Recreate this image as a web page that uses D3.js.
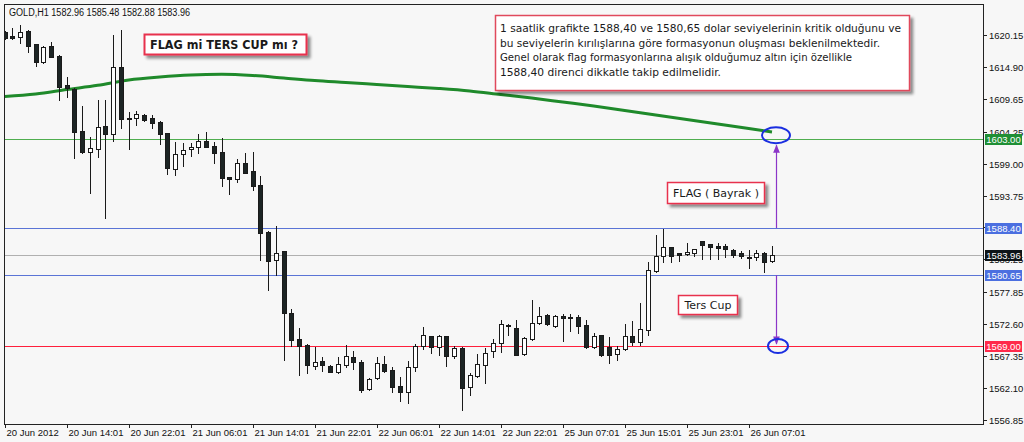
<!DOCTYPE html>
<html><head><meta charset="utf-8">
<script src="https://cdn.jsdelivr.net/npm/d3@7"></script>
<style>
html,body{margin:0;padding:0;background:#f7f7f7;}
svg{display:block;}
</style></head>
<body>
<svg id="c" width="1024" height="442"></svg>
<script>
// ---- data ----
const symbol = "GOLD,H1";
const headerOHLC = ["1582.96","1585.48","1582.88","1583.96"];
const opens  = [1620.64,1619.99,1619.87,1620.81,1618.62,1615.76,1618.39,1616.70,1611.93,1611.22,
                1604.36,1600.95,1601.35,1605.18,1603.82,1614.94,1606.55,1606.58,1606.99,1606.45,
                1605.89,1604.08,1598.06,1600.53,1601.35,1601.68,1602.76,1601.89,1600.95,1596.74,
                1596.46,1599.05,1597.83,1595.47,1587.79,1583.14,1584.62,1574.37,1570.14,1569.16,
                1565.75,1566.47,1565.75,1564.76,1565.86,1567.23,1566.41,1561.87,1563.68,1566.03,
                1565.04,1562.41,1561.37,1565.49,1569.04,1570.64,1568.88,1570.64,1567.34,1568.71,
                1562.20,1564.10,1565.86,1568.17,1569.54,1572.50,1571.90,1567.63,1570.14,1572.72,
                1574.09,1572.28,1573.93,1573.81,1573.71,1572.45,1568.78,1570.80,1568.88,1567.63,
                1568.50,1570.68,1569.70,1571.62,1581.38,1583.80,1585.23,1584.24,1584.08,1584.24,
                1586.31,1585.77,1585.44,1585.44,1584.78,1584.24,1583.68,1583.68,1584.34,1582.96];
const highs  = [1620.81,1621.25,1621.79,1620.97,1618.67,1618.40,1619.05,1616.80,1613.24,1611.43,
                1608.52,1603.32,1609.46,1609.46,1620.15,1620.97,1607.53,1607.73,1607.15,1606.99,
                1605.95,1604.10,1602.60,1602.43,1602.33,1603.82,1604.24,1602.50,1603.16,1596.84,
                1599.70,1600.69,1600.85,1597.00,1587.85,1588.73,1584.70,1575.03,1571.90,1569.32,
                1568.88,1567.13,1565.86,1567.13,1569.16,1568.22,1566.70,1563.70,1567.23,1567.35,
                1565.59,1563.94,1566.57,1569.32,1572.17,1570.70,1570.80,1570.70,1569.04,1568.80,
                1564.60,1567.67,1568.61,1570.17,1573.27,1572.61,1573.27,1570.40,1576.56,1575.36,
                1574.25,1574.09,1574.20,1574.20,1574.09,1573.27,1571.08,1570.85,1570.42,1568.99,
                1572.61,1573.15,1576.01,1582.86,1587.25,1588.25,1585.33,1584.30,1585.98,1584.95,
                1586.35,1585.85,1585.88,1585.72,1584.90,1584.67,1584.78,1584.78,1584.40,1585.48];
const lows   = [1619.49,1619.49,1618.88,1617.40,1615.10,1615.60,1616.48,1609.46,1609.95,1599.87,
                1600.74,1594.11,1600.13,1590.00,1602.76,1604.80,1601.35,1605.35,1606.00,1604.80,
                1602.22,1597.28,1597.12,1598.60,1600.25,1600.79,1601.68,1599.05,1595.31,1593.95,
                1596.02,1597.40,1594.65,1583.14,1578.20,1580.67,1566.69,1569.04,1564.22,1564.60,
                1565.16,1564.93,1564.70,1564.60,1565.49,1565.16,1561.47,1561.70,1563.56,1564.76,
                1561.47,1559.99,1559.56,1564.93,1568.58,1567.89,1567.51,1565.70,1567.00,1558.46,
                1560.93,1563.95,1562.95,1567.23,1568.06,1570.80,1567.45,1567.51,1569.98,1572.61,
                1572.50,1572.10,1569.86,1571.51,1571.08,1568.61,1568.61,1567.34,1566.14,1566.69,
                1568.33,1569.16,1569.16,1570.80,1581.22,1582.86,1582.76,1583.02,1584.00,1583.80,
                1583.30,1583.25,1583.25,1583.58,1583.70,1583.42,1581.77,1583.14,1581.11,1582.88];
const closes = [1619.66,1619.66,1620.69,1618.39,1615.76,1618.23,1616.58,1611.65,1611.38,1604.24,
                1600.85,1601.61,1604.97,1603.82,1614.94,1606.28,1606.50,1607.12,1606.17,1605.72,
                1603.86,1598.22,1600.53,1601.23,1601.68,1602.76,1601.78,1600.79,1596.58,1596.51,
                1599.05,1597.50,1595.31,1587.63,1583.02,1584.34,1574.37,1569.98,1569.04,1565.86,
                1566.41,1565.86,1564.76,1565.98,1567.39,1566.31,1561.75,1563.51,1566.14,1564.93,
                1562.30,1561.37,1565.49,1569.04,1570.80,1568.78,1570.69,1567.39,1568.61,1562.13,
                1564.22,1566.03,1567.92,1569.57,1572.61,1572.37,1567.51,1570.26,1572.82,1573.93,
                1572.61,1573.93,1573.65,1573.55,1572.28,1568.78,1570.64,1567.51,1567.51,1568.45,
                1570.68,1569.70,1571.79,1581.49,1583.80,1585.23,1583.80,1584.01,1584.40,1584.90,
                1585.60,1585.23,1585.06,1584.95,1583.96,1583.80,1583.52,1584.24,1582.86,1583.96];
// moving average, read every 4th bar
const maIndex = [0,4,8,12,16,20,24,28,32,36,40,44,48,52,56,60,64,68,72,76,80,84,88,92,96,99];
const maValue = [1610.03,1610.44,1611.18,1611.88,1612.75,1613.24,1613.57,1613.68,1613.49,1613.08,
                 1612.66,1612.34,1612.01,1611.68,1611.35,1610.94,1610.36,1609.79,1609.13,1608.47,
                 1607.73,1606.99,1606.25,1605.51,1604.77,1604.19];
const priceTicks = [1620.15,1614.90,1609.65,1604.25,1599.00,1593.75,1588.50,1583.25,1577.85,1572.60,1567.35,1562.10,1556.85];
const hiddenTickLabels = [1588.50];
const timeTickIndex = [0,8,16,24,32,40,48,56,64,72,80,88,96];
const timeTickLabels = ["20 Jun 2012","20 Jun 14:01","20 Jun 22:01","21 Jun 06:01","21 Jun 14:01","21 Jun 22:01",
                        "22 Jun 06:01","22 Jun 14:01","22 Jun 22:01","25 Jun 07:01","25 Jun 15:01","25 Jun 23:01","26 Jun 07:01"];
const levelValues = [1603.00,1588.40,1580.65,1569.00];
const levelLabels = ["1603.00","1588.40","1580.65","1569.00"];
const currentPrice = 1583.96;
const noteTitle = "FLAG mi TERS CUP mı ?";
const noteLines = ["1 saatlik grafikte 1588,40 ve 1580,65 dolar seviyelerinin kritik olduğunu ve",
                   "bu seviyelerin kırılışlarına göre formasyonun oluşması beklenilmektedir.",
                   "Genel olarak flag formasyonlarına alışık olduğumuz altın için özellikle",
                   "1588,40 direnci dikkatle takip edilmelidir."];
const flagLabel = "FLAG ( Bayrak )";
const cupLabel = "Ters Cup";

// ---- layout ----
const L = 4, R = 983, T = 4, B = 424;
const svg = d3.select("#c");
const y = d3.scaleLinear().domain([1556.17, 1625.25]).range([B, T]);
const x = d3.scaleLinear().domain([0, 99]).range([4.7, 772]);
const px = v => Math.round(x(v)) + 0.5;

const levelColors = ["#4fae4f", "#5b74d6", "#5b74d6", "#ff1f3c"];
const boxColors = ["#1f8f35", "#4b6fe0", "#4b6fe0", "#ff2a4a"];

svg.append("rect").attr("width",1024).attr("height",442).attr("fill","#f7f7f7");
svg.append("defs").html(`
 <clipPath id="plot"><rect x="${L}" y="${T}" width="${R-L}" height="${B-T}"/></clipPath>
 <filter id="sh" x="-10%" y="-20%" width="130%" height="160%">
   <feGaussianBlur in="SourceAlpha" stdDeviation="1.5"/>
   <feOffset dx="3" dy="3" result="o"/>
   <feComponentTransfer><feFuncA type="linear" slope="0.45"/></feComponentTransfer>
   <feMerge><feMergeNode/><feMergeNode in="SourceGraphic"/></feMerge>
 </filter>
 <marker id="ah" viewBox="0 0 10 10" refX="9" refY="5" markerWidth="7" markerHeight="7" orient="auto">
   <path d="M0,1 L10,5 L0,9 Z" fill="#8b35c8"/>
 </marker>`);

const g = svg.append("g").attr("clip-path","url(#plot)");

// level lines
levelValues.forEach((v,k)=>{
  const yy = Math.round(y(v))+0.5;
  g.append("line").attr("x1",L).attr("x2",R).attr("y1",yy).attr("y2",yy)
   .attr("stroke",levelColors[k]).attr("stroke-width",1);
});
{
  const yy = Math.round(y(currentPrice))+0.5;
  g.append("line").attr("x1",L).attr("x2",R).attr("y1",yy).attr("y2",yy)
   .attr("stroke","#b0b0b0").attr("stroke-width",1);
}

// moving average
const maPts = maIndex.map((d,k)=>[x(d), y(maValue[k])]);
g.append("path").attr("d", d3.line().curve(d3.curveMonotoneX)(maPts))
 .attr("fill","none").attr("stroke","#1f8a2b").attr("stroke-width",3);

// candles
const idx = d3.range(opens.length);
const cg = g.append("g");
cg.selectAll("line.w").data(idx).join("line")
  .attr("x1",i=>px(i)).attr("x2",i=>px(i))
  .attr("y1",i=>Math.round(y(highs[i]))).attr("y2",i=>Math.round(y(lows[i]))+1)
  .attr("stroke","#1a1a1a").attr("stroke-width",1);
cg.selectAll("rect.b").data(idx).join("rect")
  .attr("x",i=>px(i)-2).attr("width",4)
  .attr("y",i=>Math.round(y(Math.max(opens[i],closes[i])))+0.5)
  .attr("height",i=>Math.max(1, Math.round(y(Math.min(opens[i],closes[i])))-Math.round(y(Math.max(opens[i],closes[i])))))
  .attr("fill",i=>closes[i]>=opens[i]?"#ffffff":"#1c2424")
  .attr("stroke","#1a1a1a").attr("stroke-width",1);

// frame
svg.append("rect").attr("x",L+0.5).attr("y",T+0.5).attr("width",R-L).attr("height",B-T)
  .attr("fill","none").attr("stroke","#222").attr("stroke-width",1);

// header
svg.append("text").attr("x",9).attr("y",16).attr("font-family","Liberation Sans, Arial, sans-serif")
  .attr("font-size",10).attr("fill","#111").attr("textLength",181).attr("lengthAdjust","spacingAndGlyphs")
  .text(symbol+"  "+headerOHLC.join(" "));

// price axis
const ax = svg.append("g");
priceTicks.forEach(v=>{
  const yy = Math.round(y(v))+0.5;
  ax.append("line").attr("x1",R+1).attr("x2",R+4).attr("y1",yy).attr("y2",yy).attr("stroke","#222");
  if (hiddenTickLabels.includes(v)) return;
  ax.append("text").attr("x",989).attr("y",yy).attr("dy","0.35em")
    .attr("font-family","Liberation Sans, Arial, sans-serif").attr("font-size",9.5).attr("fill","#111").text(v.toFixed(2));
});
// time axis
timeTickIndex.forEach((d,k)=>{
  const xx = px(d);
  ax.append("line").attr("x1",xx).attr("x2",xx).attr("y1",B).attr("y2",B+4).attr("stroke","#222");
  ax.append("text").attr("x",xx+1).attr("y",435.5)
    .attr("font-family","Liberation Sans, Arial, sans-serif").attr("font-size",9.5).attr("fill","#111").text(timeTickLabels[k]);
});

// level price boxes
function priceBox(v, label, col){
  const yy = Math.round(y(v));
  ax.append("rect").attr("x",985).attr("y",yy-5).attr("width",37).attr("height",11).attr("fill",col);
  ax.append("text").attr("x",1003.5).attr("y",yy+0.5).attr("dy","0.35em").attr("text-anchor","middle")
    .attr("font-family","Liberation Sans, Arial, sans-serif").attr("font-size",9.5).attr("fill","#fff").text(label);
}
levelValues.forEach((v,k)=>priceBox(v, levelLabels[k], boxColors[k]));
priceBox(currentPrice, currentPrice.toFixed(2), "#0e1418");

// annotations
const ann = svg.append("g");
const fnt = "DejaVu Sans, sans-serif";
// title box
ann.append("rect").attr("x",144.5).attr("y",34.5).attr("width",162).attr("height",20)
  .attr("fill","#fff").attr("stroke","#e8304e").attr("stroke-width",2).attr("filter","url(#sh)");
ann.append("text").attr("x",150).attr("y",49).attr("font-family",fnt).attr("font-weight","bold")
  .attr("font-size",13).attr("fill","#1a1a1a").attr("textLength",148).attr("lengthAdjust","spacingAndGlyphs").text(noteTitle);
// note box
ann.append("rect").attr("x",495.5).attr("y",15.5).attr("width",414).attr("height",75)
  .attr("fill","#fff").attr("stroke","#e04a5c").attr("stroke-width",1.5).attr("filter","url(#sh)");
const lineW = [401, 380, 352, 221];
noteLines.forEach((t,k)=>{
  ann.append("text").attr("x",500).attr("y",32 + k*14.6).attr("font-family",fnt)
    .attr("font-size",11).attr("fill","#1a1a1a").attr("textLength",lineW[k]).attr("lengthAdjust","spacingAndGlyphs").text(t);
});
// flag box
ann.append("rect").attr("x",667.5).attr("y",182.5).attr("width",97).attr("height",21)
  .attr("fill","#fff").attr("stroke","#e8304e").attr("stroke-width",1.5).attr("filter","url(#sh)");
ann.append("text").attr("x",716).attr("y",197).attr("text-anchor","middle").attr("font-family",fnt)
  .attr("font-size",11).attr("fill","#1a1a1a").text(flagLabel);
// cup box
ann.append("rect").attr("x",678.5).attr("y",295.5).attr("width",59).attr("height",19)
  .attr("fill","#fff").attr("stroke","#e8304e").attr("stroke-width",1.5).attr("filter","url(#sh)");
ann.append("text").attr("x",708).attr("y",309).attr("text-anchor","middle").attr("font-family",fnt)
  .attr("font-size",11).attr("fill","#1a1a1a").text(cupLabel);

// arrows
const ax1 = 776.5;
ann.append("line").attr("x1",ax1).attr("x2",ax1).attr("y1",y(levelValues[1])).attr("y2",y(levelValues[0])+6)
  .attr("stroke","#8b35c8").attr("stroke-width",1.2).attr("marker-end","url(#ah)");
ann.append("line").attr("x1",ax1).attr("x2",ax1).attr("y1",y(levelValues[2])).attr("y2",y(levelValues[3])-2)
  .attr("stroke","#8b35c8").attr("stroke-width",1.2).attr("marker-end","url(#ah)");
// ellipses
ann.append("ellipse").attr("cx",776).attr("cy",y(levelValues[0])-4).attr("rx",14).attr("ry",8)
  .attr("fill","none").attr("stroke","#1a2ee0").attr("stroke-width",2);
ann.append("ellipse").attr("cx",778).attr("cy",y(levelValues[3])).attr("rx",10).attr("ry",7)
  .attr("fill","none").attr("stroke","#1a2ee0").attr("stroke-width",2);
</script>
</body></html>
